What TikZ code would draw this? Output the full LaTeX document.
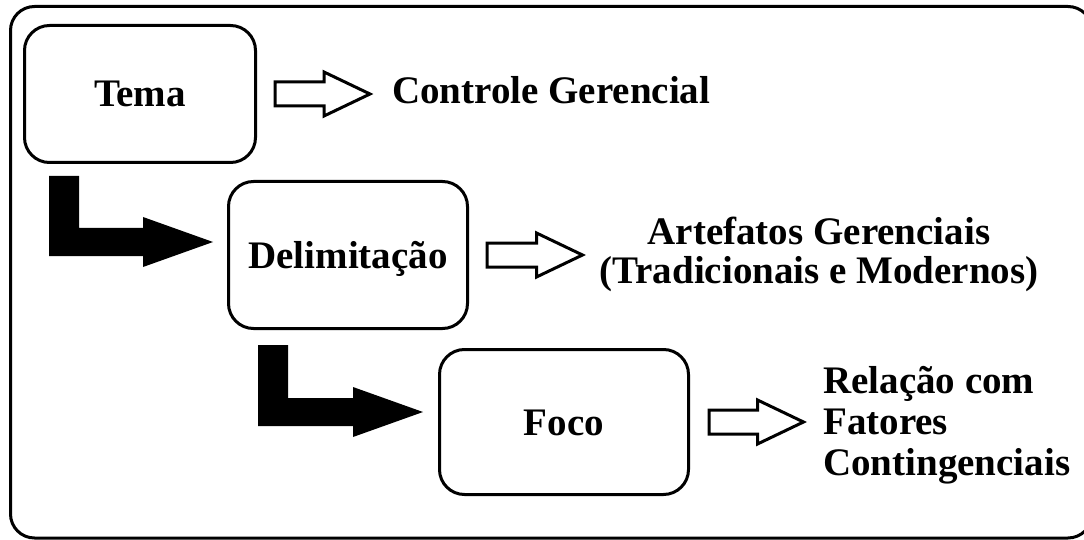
\documentclass[tikz,border=0pt]{standalone}
\usepackage{fontspec}
\setmainfont{Liberation Serif}
\usepackage{tikz}
\usetikzlibrary{calc}
\tikzstyle{Frame}=[draw=black,line width=3pt,rounded corners=24pt]
\tikzstyle{Box}=[draw=black,line width=3pt,rounded corners=25pt,inner sep=0pt,
font=\fontsize{39}{40}\selectfont\bfseries,text height=26pt,text depth=0pt]
\tikzstyle{Label}=[inner sep=0pt,font=\fontsize{39}{41}\selectfont\bfseries]
\tikzstyle{Hollow}=[draw=black,fill=white,line width=3pt,line join=miter]
\tikzstyle{Solid}=[fill=black]
% open arrow: #1 tail, #2 tip
\newcommand{\HollowArrow}[2]{\draw[Hollow] let \p1=(#1), \p2=(#2) in
    (\x1,\y1+12pt)--(\x2-46pt,\y1+12pt)--(\x2-46pt,\y1+22pt)--(\x2,\y1)
    --(\x2-46pt,\y1-22pt)--(\x2-46pt,\y1-12pt)--(\x1,\y1-12pt)--cycle;}
% black bent arrow: #1 top of the bar, #2 tip
\newcommand{\TurnArrow}[2]{\fill[Solid] let \p1=(#1), \p2=(#2) in
    (\x1-15pt,\y1)--(\x1+15pt,\y1)--(\x1+15pt,\y2+14pt)--(\x2-70pt,\y2+14pt)
    --(\x2-70pt,\y2+25pt)--(\x2,\y2)--(\x2-70pt,\y2-25pt)--(\x2-70pt,\y2-14pt)
    --(\x1-15pt,\y2-14pt)--cycle;}
\begin{document}
\begin{tikzpicture}[x=1pt,y=-1pt]
        \path[use as bounding box,fill=white](0,0)rectangle(1084,540);
        \clip(0,0)rectangle(1084,540);
        \draw[Frame](10.5,6.5)rectangle(1092,538);
        \node[Box,minimum width=231pt,minimum height=137pt](tema)at(140,94)
            {Tema};
        \node[Box,minimum width=239pt,minimum height=147pt](delim)at(348,255)
            {Delimitação};
        \node[Box,minimum width=249pt,minimum height=145pt](foco)at(564,422)
            {Foco};
        \node[Label,anchor=west](ctrl)at(392,90){Controle Gerencial};
        \node[Label,align=center,font=\fontsize{39}{39}\selectfont\bfseries]
            (artef)at(819,254){Artefatos Gerenciais\\(Tradicionais e Modernos)};
        \node[Label,align=left,anchor=west](rel)at(823,425)
            {Relação com\\Fatores\\Contingenciais};
        \coordinate(s1)at([xshift=18pt]tema.east);
        \coordinate(e1)at([xshift=113pt]tema.east);
        \coordinate(s2)at([xshift=18pt]delim.east);
        \coordinate(e2)at([xshift=113.5pt]delim.east);
        \coordinate(s3)at([xshift=19pt]foco.east);
        \coordinate(e3)at([xshift=113.5pt]foco.east);
        \HollowArrow{s1}{e1}
        \HollowArrow{s2}{e2}
        \HollowArrow{s3}{e3}
        \coordinate(b1)at(64,176);
        \coordinate(t1)at(213,242);
        \coordinate(b2)at(273,345);
        \coordinate(t2)at(423,412);
        \TurnArrow{b1}{t1}
        \TurnArrow{b2}{t2}
    \end{tikzpicture}
\end{document}
